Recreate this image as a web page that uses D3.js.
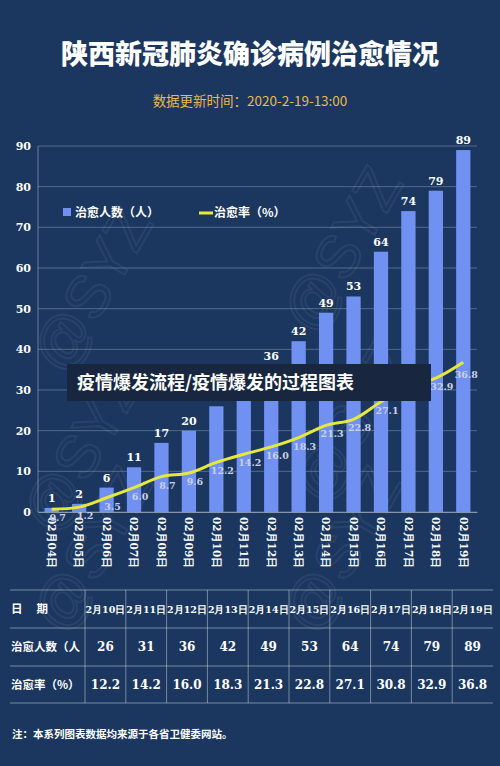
<!DOCTYPE html>
<html><head><meta charset="utf-8">
<script src="https://cdn.jsdelivr.net/npm/d3@7"></script>
<style>body{margin:0;background:#1b3760}</style>
</head><body><div id="chart"></div>
<script>
// Data
const dates = ['02月04日','02月05日','02月06日','02月07日','02月08日','02月09日','02月10日','02月11日','02月12日','02月13日','02月14日','02月15日','02月16日','02月17日','02月18日','02月19日']
const cured = [1,2,6,11,17,20,26,31,36,42,49,53,64,74,79,89]
const rate = [0.7,1.2,3.5,6.0,8.7,9.6,12.2,14.2,16.0,18.3,21.3,22.8,27.1,30.8,32.9,36.8]
const yTicks = [0,10,20,30,40,50,60,70,80,90]
const tableDates = ['2月10日','2月11日','2月12日','2月13日','2月14日','2月15日','2月16日','2月17日','2月18日','2月19日']
const tableCured = [26,31,36,42,49,53,64,74,79,89]
const tableRate = ['12.2','14.2','16.0','18.3','21.3','22.8','27.1','30.8','32.9','36.8']

const W = 500, H = 766
const serif = '"DejaVu Serif","Liberation Serif",serif'
const cjk = '"Noto Sans CJK SC",sans-serif'

const svg = d3.select('#chart').append('svg').attr('width', W).attr('height', H)
svg.append('rect').attr('width', W).attr('height', H).attr('fill', '#1b3760')

// watermarks
;[[110,300],[360,260],[110,560],[360,560],[100,460],[370,430]].forEach(([x,y])=>{
  svg.append('text').attr('transform',`translate(${x},${y}) rotate(-60)`)
    .attr('text-anchor','middle').attr('font-size',60).attr('font-family','sans-serif')
    .attr('fill','none').attr('stroke','rgba(255,255,255,0.06)').attr('stroke-width',2).text('@SYZ')
})

svg.append('text').attr('x', W/2).attr('y', 64).attr('text-anchor','middle')
  .attr('font-family', cjk).attr('font-weight','900').attr('font-size',27).attr('fill','#fff')
  .text('陕西新冠肺炎确诊病例治愈情况')
svg.append('text').attr('x', W/2).attr('y', 106).attr('text-anchor','middle')
  .attr('font-family', cjk).attr('font-size',13.5).attr('fill','#e9b94c')
  .text('数据更新时间：2020-2-19-13:00')

// scales
const x = d3.scaleBand().domain(dates).range([38, 477]).paddingInner(0.48).paddingOuter(0.24)
const y = d3.scaleLinear().domain([0, 90]).range([512, 146])

const g = svg.append('g')
g.selectAll('.grid').data(yTicks).join('line')
  .attr('x1', 38).attr('x2', 477).attr('y1', d=>y(d)).attr('y2', d=>y(d))
  .attr('stroke', 'rgba(255,255,255,0.25)')
g.append('line').attr('x1',38).attr('x2',38).attr('y1',y(90)).attr('y2',y(0)).attr('stroke','rgba(255,255,255,0.35)')

const yAxis = g.append('g').attr('transform','translate(34,0)')
  .call(d3.axisLeft(y).tickValues(yTicks).tickSize(0))
yAxis.select('.domain').remove()
yAxis.selectAll('text').attr('font-family', serif).attr('font-weight','bold').attr('font-size',11).attr('fill','#fff')

const xAxis = g.append('g').attr('transform','translate(0,512)')
  .call(d3.axisBottom(x).tickSize(0))
xAxis.select('.domain').attr('stroke','rgba(255,255,255,0.4)')
xAxis.selectAll('text').attr('font-family', serif).attr('font-weight','bold').attr('font-size',10.5)
  .attr('fill','#fff').attr('transform','rotate(90)').attr('text-anchor','start')
  .attr('x', 5).attr('y', 0).attr('dy','0.35em')

g.selectAll('.bar').data(cured).join('rect')
  .attr('x', (d,i)=>x(dates[i])).attr('width', x.bandwidth())
  .attr('y', d=>y(d)).attr('height', d=>y(0)-y(d)).attr('fill', '#7090f2')
g.selectAll('.bl').data(cured).join('text')
  .attr('x', (d,i)=>x(dates[i])+x.bandwidth()/2).attr('y', d=>y(d)-6)
  .attr('text-anchor','middle').attr('font-family',serif).attr('font-weight','bold')
  .attr('font-size',11).attr('fill','#fff').text(d=>d)

const line = d3.line().x((d,i)=>x(dates[i])+x.bandwidth()/2).y(d=>y(d)).curve(d3.curveCatmullRom)
g.append('path').datum(rate).attr('d', line).attr('fill','none').attr('stroke','#e6e93a').attr('stroke-width',3)
g.selectAll('.rl').data(rate).join('text')
  .attr('x', (d,i)=>x(dates[i])+x.bandwidth()/2 + (i===15?3:6)).attr('y', (d,i)=>y(d)+ (i===15?16:12))
  .attr('text-anchor','middle').attr('font-family',serif).attr('font-weight','bold')
  .attr('font-size',9.5).attr('fill','#c9d1e8').text(d=>d.toFixed(1))

// legend
svg.append('rect').attr('x',63).attr('y',208).attr('width',8).attr('height',8).attr('fill','#7090f2')
svg.append('text').attr('x',75).attr('y',217).attr('font-family',cjk).attr('font-weight','bold').attr('font-size',12).attr('fill','#fff').text('治愈人数（人）')
svg.append('line').attr('x1',199).attr('x2',213).attr('y1',213).attr('y2',213).attr('stroke','#e6e93a').attr('stroke-width',3)
svg.append('text').attr('x',214).attr('y',217).attr('font-family',cjk).attr('font-weight','bold').attr('font-size',12).attr('fill','#fff').text('治愈率（%）')

// banner
svg.append('rect').attr('x',67).attr('y',364).attr('width',364).attr('height',37).attr('fill','#18263f')
svg.append('text').attr('x',77).attr('y',389).attr('font-family',cjk).attr('font-weight','bold').attr('font-size',18).attr('fill','#fff').text('疫情爆发流程/疫情爆发的过程图表')

// table
const cols = d3.scaleBand().domain(tableDates).range([85, 493])
const rowY = [590, 628, 666, 703]
const t = svg.append('g')
rowY.forEach(yy=>t.append('line').attr('x1',10).attr('x2',493).attr('y1',yy).attr('y2',yy).attr('stroke','rgba(255,255,255,0.4)'))
tableDates.forEach(d=>t.append('line').attr('x1',cols(d)).attr('x2',cols(d)).attr('y1',590).attr('y2',703).attr('stroke','rgba(255,255,255,0.4)'))
const rowLabels = ['日　 期','治愈人数（人','治愈率（%）']
rowLabels.forEach((l,i)=>t.append('text').attr('x',11).attr('y',rowY[i]+23).attr('font-family',cjk).attr('font-weight','bold').attr('font-size',11.5).attr('fill','#fff').text(l))
const rows = [tableDates, tableCured, tableRate]
rows.forEach((r,ri)=>{
  t.selectAll('.c'+ri).data(r).join('text')
    .attr('x',(d,i)=>cols(tableDates[i])+cols.bandwidth()/2).attr('y',rowY[ri]+23)
    .attr('text-anchor','middle').attr('font-family',serif).attr('font-weight','bold')
    .attr('font-size', ri===0?9.5:12).attr('fill','#fff').text(d=>d)
})
svg.append('text').attr('x',12).attr('y',738).attr('font-family',cjk).attr('font-weight','bold').attr('font-size',10.5).attr('fill','#fff').text('注：本系列图表数据均来源于各省卫健委网站。')
</script></body></html>
